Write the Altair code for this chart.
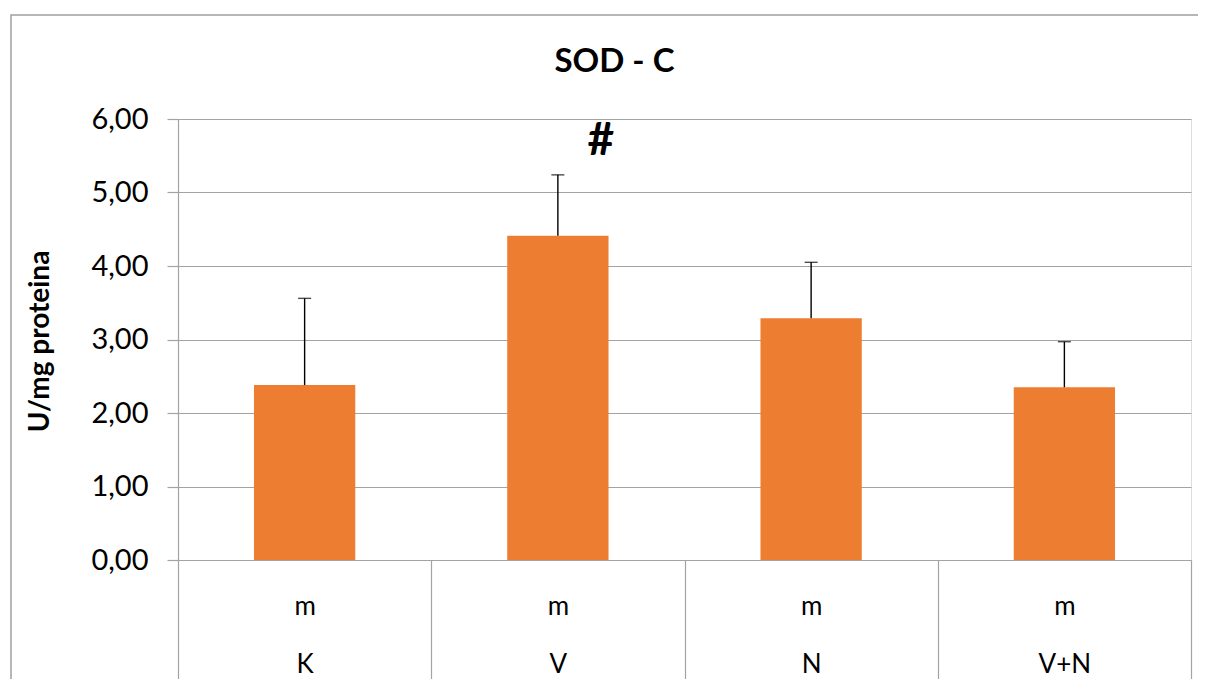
import altair as alt
import pandas as pd

groups = ["K", "V", "N", "V+N"]
top_labels = ["m", "m", "m", "m"]
means = [2.38, 4.41, 3.29, 2.35]
sds = [1.18, 0.83, 0.76, 0.62]
marks = ["", "#", "", ""]
y_ticks = [0, 1, 2, 3, 4, 5, 6]

df = pd.DataFrame({
    "group": groups,
    "sub": top_labels,
    "mean": means,
    "sd": sds,
    "ann": marks,
})
df["hi"] = df["mean"] + df["sd"]

FONT = "Lato"
GRAY = "#a3a3a3"

x_scale = alt.Scale(paddingInner=0, paddingOuter=0)

x_enc = alt.X(
    "group:N",
    sort=groups,
    scale=x_scale,
    axis=alt.Axis(
        title=None,
        labelAngle=0,
        labelExpr="datum.label ? ['m', datum.label] : ''",
        labelLineHeight=58,
        labelBaseline="top",
        labelPadding=-94,
        labelFont=FONT,
        labelFontSize=26,
        labelColor="#000000",
        tickBand="extent",
        tickSize=127,
        tickColor=GRAY,
        tickWidth=1.2,
        domainColor=GRAY,
        domainWidth=1.2,
        grid=False,
    ),
)

y_scale = alt.Scale(domain=[0, 6], nice=False)

bars = alt.Chart(df).mark_bar(color="#ED7D31", width=alt.RelativeBandSize(0.4)).encode(
    x=x_enc,
    y=alt.Y(
        "mean:Q",
        scale=y_scale,
        axis=alt.Axis(
            values=y_ticks,
            labelExpr="replace(format(datum.value, '.2f'), '.', ',')",
            labelFont=FONT,
            labelFontSize=29,
            labelColor="#000000",
            labelPadding=19,
            tickSize=11,
            tickColor=GRAY,
            tickWidth=1.2,
            domainColor=GRAY,
            domainWidth=1.2,
            gridColor=GRAY,
            gridWidth=1.2,
            title="U/mg proteina",
            titleFont=FONT,
            titleFontSize=28,
            titleFontWeight="bold",
            titleColor="#000000",
            titleX=-138,
            titleY=222,
            titleBaseline="middle",
            titleAngle=270,
        ),
    ),
)

err = alt.Chart(df).mark_rule(color="#000000", strokeWidth=1.4).encode(
    x=alt.X("group:N", sort=groups, scale=x_scale),
    y=alt.Y("mean:Q", scale=y_scale),
    y2="hi:Q",
)

caps = alt.Chart(df).mark_tick(color="#000000", thickness=1.4, size=13, orient="horizontal").encode(
    x=alt.X("group:N", sort=groups, scale=x_scale),
    y=alt.Y("hi:Q", scale=y_scale),
)

ann = alt.Chart(df).mark_text(
    font=FONT, fontSize=46, fontWeight="bold", color="#000000",
    baseline="middle", align="center", dx=43, dy=-34,
).encode(
    x=alt.X("group:N", sort=groups, scale=x_scale),
    y=alt.Y("hi:Q", scale=y_scale),
    text="ann:N",
)

frame = alt.Chart(pd.DataFrame({"f": [0]})).mark_rect(
    fill=None, stroke="#a0a0a0", strokeWidth=1.5
).encode(
    x=alt.value(-167), x2=alt.value(1200),
    y=alt.value(-104), y2=alt.value(800),
)

chart = alt.layer(frame, bars, err, caps, ann).properties(
    width=1013,
    height=441,
    title=alt.TitleParams(
        "SOD - C",
        font=FONT,
        fontSize=33,
        fontWeight="bold",
        color="#000000",
        anchor="middle",
        frame="group",
        dx=-70,
        offset=-65,
    ),
    autosize=alt.AutoSizeParams(type="none"),
    padding={"left": 170, "top": 111, "right": 7, "bottom": 119},
).configure_view(stroke=None).configure(background="#ffffff")

chart.save("out.html", embed_options={"renderer": "svg", "actions": False})
